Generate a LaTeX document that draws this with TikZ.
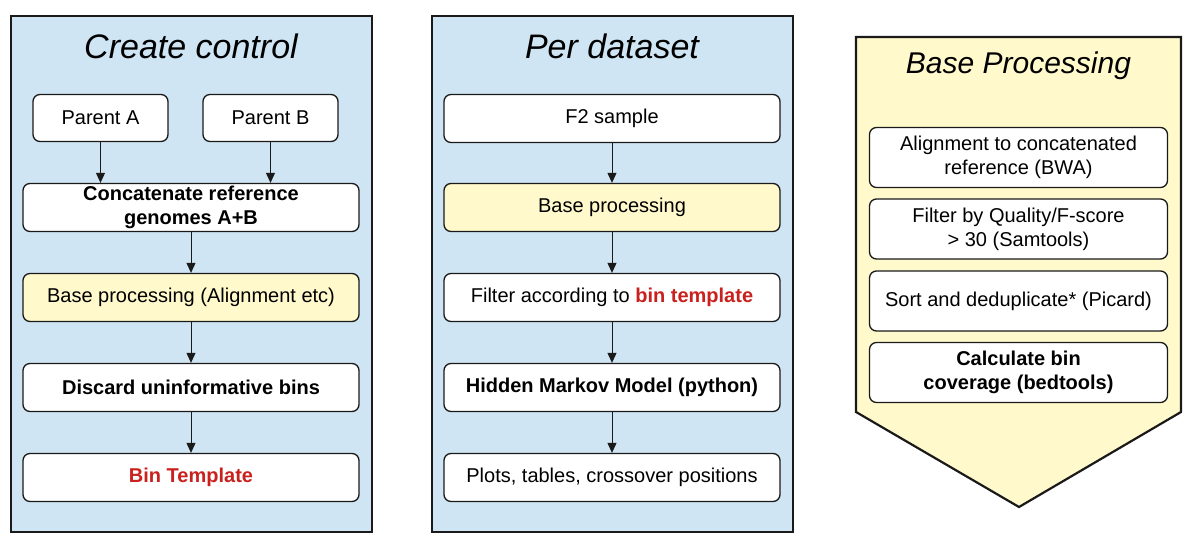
\documentclass[tikz,border=0pt]{standalone}
\usepackage{fontspec}
\setmainfont{Liberation Sans}
\usetikzlibrary{arrows.meta}

\definecolor{panelblue}{HTML}{CFE5F3}
\definecolor{paleyellow}{HTML}{FFF9CC}
\definecolor{binred}{HTML}{C9211E}
\definecolor{edgegray}{HTML}{1A1A1A}

\tikzset{
  procbox/.style={draw=edgegray, line width=1.3pt, rounded corners=7pt, fill=white,
    minimum width=336pt, minimum height=48pt, align=center, inner sep=2pt,
    font=\fontsize{20}{24}\selectfont},
  panel/.style={draw=edgegray, line width=2.2pt},
  paneltitle/.style={font=\fontsize{34}{40}\selectfont\itshape},
  flow/.style={-{Triangle[width=9pt,length=10pt]}, line width=0.9pt, draw=edgegray}
}

\begin{document}
\begin{tikzpicture}[x=1pt,y=-1pt]
    \useasboundingbox (0,0) rectangle (1197,551);

    % Draw the two blue panels and the yellow pentagon
    \draw[panel, fill=panelblue] (11,16) rectangle (372,532);
    \draw[panel, fill=panelblue] (432,16) rectangle (793,532);
    \draw[panel, fill=paleyellow] (856,37) -- (1181,37) -- (1181,412) -- (1019,507) -- (856,412) -- cycle;

    % Panel titles
    \node[paneltitle] (tcc) at (191,46) {Create control};
    \node[paneltitle] (tpd) at (612,46) {Per dataset};
    \node[paneltitle, font=\fontsize{30}{36}\selectfont\itshape] (tbp) at (1018.5,66) {Base Processing};

    % Create control steps
    \node[procbox, minimum width=135pt, minimum height=47pt] (pa) at (100.5,118) {Parent A};
    \node[procbox, minimum width=135pt, minimum height=47pt] (pb) at (270.5,118) {Parent B};
    \node[procbox, font=\fontsize{20}{24}\selectfont\bfseries] (cat) at (191,207.5) {Concatenate reference\\genomes A+B};
    \node[procbox, fill=paleyellow] (bpa) at (191,297.5) {Base processing (Alignment etc)};
    \node[procbox, font=\fontsize{20}{24}\selectfont\bfseries] (dis) at (191,387.5) {Discard uninformative bins};
    \node[procbox, font=\fontsize{20}{24}\selectfont\bfseries, text=binred] (bin) at (191,477.5) {Bin Template};

    % Per dataset steps
    \node[procbox] (f2) at (612,118.5) {F2 sample};
    \node[procbox, fill=paleyellow] (bpb) at (612,207.5) {Base processing};
    \node[procbox] (flt) at (612,297.5) {Filter according to \textcolor{binred}{\bfseries bin template}};
    \node[procbox, font=\fontsize{20}{24}\selectfont\bfseries] (hmm) at (612,387.5) {Hidden Markov Model (python)};
    \node[procbox] (plt) at (612,477.5) {Plots, tables, crossover positions};

    % Base processing steps
    \node[procbox, minimum width=298pt, minimum height=60pt] (aln) at (1018.5,157.5) {Alignment to concatenated\\reference (BWA)};
    \node[procbox, minimum width=298pt, minimum height=60pt] (qual) at (1018.5,229) {Filter by Quality/F-score\\> 30 (Samtools)};
    \node[procbox, minimum width=298pt, minimum height=60pt] (dedup) at (1018.5,301) {Sort and deduplicate* (Picard)};
    \node[procbox, minimum width=298pt, minimum height=60pt, font=\fontsize{20}{24}\selectfont\bfseries] (cov) at (1018.5,372.5) {Calculate bin\\coverage (bedtools)};

    % Draw arrows
    \draw[flow] (pa) -- (pa |- cat.north);
    \draw[flow] (pb) -- (pb |- cat.north);
    \draw[flow] (cat) -- (bpa);
    \draw[flow] (bpa) -- (dis);
    \draw[flow] (dis) -- (bin);
    \draw[flow] (f2) -- (bpb);
    \draw[flow] (bpb) -- (flt);
    \draw[flow] (flt) -- (hmm);
    \draw[flow] (hmm) -- (plt);
\end{tikzpicture}
\end{document}
